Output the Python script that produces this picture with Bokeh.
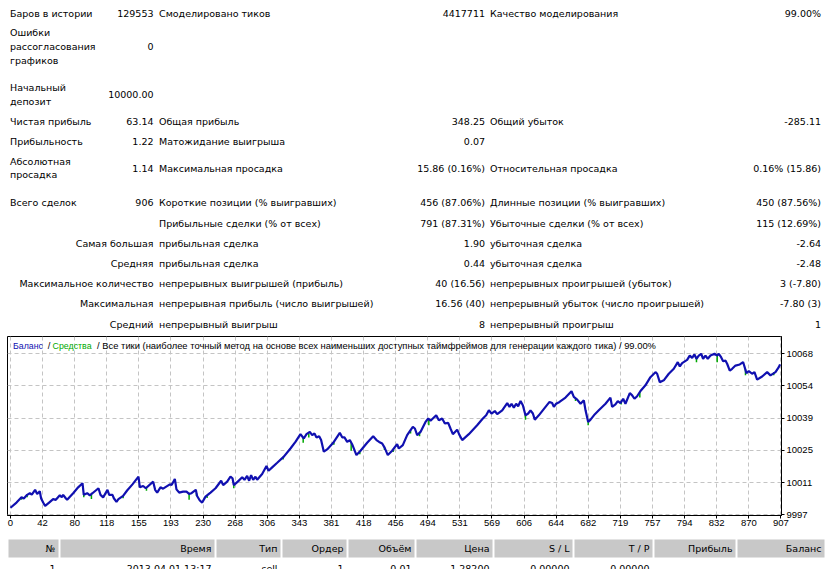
from bokeh.plotting import figure
from bokeh.models import Range1d, FixedTicker, Label, CustomJSTickFormatter
from bokeh.layouts import column
from bokeh.embed import file_html
from bokeh.resources import INLINE
from bokeh.core.properties import value

# ---------------- data ----------------
# summary table (text content)
left_labels = ["Баров в истории", "Ошибки", "рассогласования", "графиков",
               "Начальный", "депозит", "Чистая прибыль", "Прибыльность",
               "Абсолютная", "просадка", "Всего сделок"]
left_right_labels = ["Самая большая", "Средняя", "Максимальное количество",
                     "Максимальная", "Средний"]
first_values = ["129553", "0", "10000.00", "63.14", "1.22", "1.14", "906"]
mid_labels = ["Смоделировано тиков", "Общая прибыль", "Матожидание выигрыша",
              "Максимальная просадка", "Короткие позиции (% выигравших)",
              "Прибыльные сделки (% от всех)", "прибыльная сделка",
              "прибыльная сделка", "непрерывных выигрышей (прибыль)",
              "непрерывная прибыль (число выигрышей)", "непрерывный выигрыш"]
mid_values = ["4417711", "348.25", "0.07", "15.86 (0.16%)", "456 (87.06%)",
              "791 (87.31%)", "1.90", "0.44", "40 (16.56)", "16.56 (40)", "8"]
right_labels = ["Качество моделирования", "Общий убыток", "Относительная просадка",
                "Длинные позиции (% выигравших)", "Убыточные сделки (% от всех)",
                "убыточная сделка", "убыточная сделка",
                "непрерывных проигрышей (убыток)",
                "непрерывный убыток (число проигрышей)", "непрерывный проигрыш"]
right_values = ["99.00%", "-285.11", "0.16% (15.86)", "450 (87.56%)",
                "115 (12.69%)", "-2.64", "-2.48", "3 (-7.80)", "-7.80 (3)", "1"]

# balance curve (trade number, balance)
trade_no = [0, 7.1, 13.0, 15.7, 19.6, 22.8, 25.1, 29.0, 31.4, 34.5, 36.1, 38.5, 40.8,
            45.5, 50.2, 53.4, 58.1, 60.4, 62.0, 65.1, 66.7, 73.8, 79.7, 84.8, 86.3,
            90.3, 93.4, 96.5, 103.6, 106.0, 109.1, 114.2, 116.2, 120.1, 121.7, 124.8,
            127.1, 132.6, 137.3, 143.6, 150.7, 152.3, 156.2, 159.3, 168.0, 170.3,
            172.7, 176.6, 179.7, 187.6, 189.9, 193.5, 195.4, 198.6, 203.3, 207.2,
            210.3, 213.1, 218.2, 219.7, 222.9, 225.7, 229.6, 235.5, 241.4, 248.0,
            250.4, 255.1, 259.0, 261.4, 262.9, 267.6, 272.8, 275.5, 278.6, 281.0,
            283.3, 285.7, 288.4, 290.4, 296.3, 301.4, 303.8, 308.1, 314.0, 321.8,
            329.6, 335.5, 341.4, 345.3, 348.5, 352.4, 355.2, 357.9, 360.3, 363.4,
            365.7, 368.9, 372.8, 379.9, 387.7, 390.5, 393.2, 396.4, 399.5, 402.2,
            407.3, 412.1, 419.9, 427.0, 430.9, 434.0, 437.6, 440.3, 444.2, 449.3,
            455.2, 457.2, 461.9, 467.0, 471.0, 473.7, 476.1, 478.8, 482.7, 488.6,
            491.8, 494.5, 501.2, 504.3, 508.2, 511.4, 515.3, 518.0, 520.8, 525.9,
            528.6, 531.8, 539.6, 549.4, 556.1, 560.0, 563.2, 566.3, 570.2, 573.0,
            578.9, 584.8, 587.5, 589.9, 592.6, 595.3, 597.7, 600.5, 603.2, 606.3,
            609.5, 612.2, 615.0, 617.3, 622.0, 629.9, 634.6, 637.7, 639.7, 642.4,
            646.4, 653.4, 660.5, 663.2, 667.2, 671.1, 675.0, 677.0, 680.1, 682.9,
            688.0, 692.6, 700.5, 706.3, 708.3, 712.2, 715.0, 718.1, 721.3, 724.0,
            729.1, 731.9, 734.6, 737.7, 741.7, 747.5, 753.4, 759.3, 761.3, 764.4,
            769.1, 775.0, 780.9, 785.6, 788.0, 790.7, 796.6, 799.7, 802.5, 805.2,
            807.6, 810.3, 813.1, 815.4, 818.2, 820.9, 824.1, 828.8, 831.9, 833.9,
            836.6, 839.0, 841.7, 843.7, 846.8, 849.6, 853.5, 858.6, 862.5, 864.1,
            866.4, 869.2, 873.1, 875.9, 879.0, 884.9, 890.8, 894.7, 900.6, 904.5, 906.0]
balance = [10000.0, 10002.3, 10004.6, 10004.1, 10005.7, 10006.4, 10005.8, 10007.9,
           10006.1, 10007.3, 10004.1, 10002.3, 10000.8, 10002.3, 10003.8, 10003.5,
           10005.5, 10004.6, 10005.7, 10004.2, 10003.5, 10006.4, 10009.0, 10010.8,
           10005.7, 10006.4, 10005.5, 10006.4, 10008.6, 10005.7, 10004.6, 10007.9,
           10005.7, 10005.7, 10004.2, 10002.6, 10003.8, 10005.2, 10007.6, 10010.3,
           10013.7, 10009.0, 10009.6, 10008.6, 10011.5, 10007.9, 10006.7, 10009.0,
           10008.4, 10010.3, 10010.1, 10012.7, 10008.1, 10006.7, 10007.1, 10007.1,
           10006.1, 10006.4, 10007.9, 10005.2, 10003.2, 10002.3, 10004.9, 10006.7,
           10008.6, 10011.9, 10010.0, 10011.5, 10013.7, 10013.0, 10010.0, 10011.5,
           10013.4, 10012.3, 10014.0, 10011.9, 10014.4, 10012.3, 10013.7, 10012.3,
           10014.9, 10018.4, 10016.3, 10017.8, 10019.8, 10022.5, 10026.1, 10029.0,
           10032.4, 10030.5, 10032.4, 10033.4, 10032.0, 10032.7, 10030.9, 10031.5,
           10029.8, 10024.7, 10025.7, 10028.6, 10033.0, 10031.0, 10031.0, 10029.0,
           10029.8, 10028.0, 10023.2, 10025.1, 10028.6, 10031.5, 10029.8, 10029.0,
           10028.3, 10026.6, 10023.2, 10025.1, 10028.0, 10026.1, 10027.6, 10032.0,
           10034.2, 10035.6, 10034.9, 10032.0, 10033.4, 10037.8, 10039.3, 10038.3,
           10040.7, 10038.5, 10039.3, 10037.1, 10037.4, 10034.9, 10032.4, 10034.4,
           10032.0, 10029.8, 10032.4, 10036.3, 10039.3, 10040.7, 10042.9, 10041.5,
           10042.6, 10041.2, 10042.9, 10046.1, 10044.4, 10045.8, 10044.1, 10045.8,
           10044.7, 10047.0, 10045.1, 10040.7, 10041.5, 10042.9, 10041.5, 10038.8,
           10040.7, 10044.4, 10046.6, 10046.1, 10044.4, 10045.8, 10046.6, 10048.5,
           10051.3, 10048.8, 10047.6, 10045.8, 10047.3, 10042.9, 10037.8, 10038.8,
           10041.2, 10042.9, 10045.8, 10048.5, 10044.4, 10045.5, 10047.0, 10046.1,
           10048.0, 10045.8, 10050.5, 10049.5, 10048.0, 10049.1, 10051.4, 10053.9,
           10057.5, 10059.7, 10059.0, 10055.3, 10056.1, 10059.0, 10061.2, 10064.1,
           10062.2, 10063.7, 10065.1, 10067.0, 10066.0, 10067.5, 10065.6, 10067.0,
           10067.8, 10065.6, 10067.0, 10065.6, 10067.0, 10067.8, 10067.0, 10067.8,
           10066.3, 10064.5, 10064.8, 10063.4, 10060.4, 10061.2, 10062.6, 10063.1,
           10064.1, 10062.2, 10059.3, 10060.2, 10059.0, 10059.7, 10056.4, 10057.8,
           10059.7, 10058.3, 10059.7, 10061.9, 10063.14]

# equity dips (trade number, equity high, equity low)
eq_trade = [13, 19.6, 86.3, 95.3, 132.6, 160.1, 210.3, 219.0, 231.5, 262.9, 321.0,
            344.6, 351.2, 380.7, 401.1, 411.3, 440.3, 450.5, 471.0, 481.6, 492.5,
            606.3, 665.2, 680.1, 718.9, 740.9, 807.6, 832.0, 865.3, 898.6]
eq_high = [10004.6, 10005.7, 10006.0, 10006.0, 10005.2, 10008.6, 10006.1, 10006.5,
           10005.2, 10010.5, 10022.5, 10030.8, 10032.8, 10028.8, 10028.4, 10024.8,
           10026.8, 10025.4, 10034.2, 10033.0, 10038.8, 10041.0, 10048.2, 10038.0,
           10046.4, 10051.0, 10066.0, 10067.6, 10061.0, 10059.7]
eq_low = [10003.5, 10004.6, 10004.6, 10003.9, 10004.2, 10007.5, 10003.5, 10005.2,
          10004.3, 10008.6, 10021.3, 10028.6, 10030.9, 10027.8, 10025.1, 10023.6,
          10025.4, 10024.5, 10032.7, 10031.5, 10036.3, 10038.8, 10047.0, 10036.3,
          10045.5, 10048.5, 10064.1, 10064.1, 10058.3, 10058.3]

x_tick_labels = ["0", "42", "80", "118", "155", "193", "230", "268", "306", "343",
                 "381", "418", "456", "494", "531", "569", "606", "644", "682",
                 "719", "757", "794", "832", "870", "907"]
y_tick_values = [9996.9, 10011.1, 10025.3, 10039.5, 10053.7, 10067.9]
y_tick_labels = ["9997", "10011", "10025", "10039", "10054", "10068"]

legend_parts = ["Баланс", "/", "Средства",
                "/ Все тики (наиболее точный метод на основе всех наименьших доступных таймфреймов для генерации каждого тика) / 99.00%"]

deals_header = ["№", "Время", "Тип", "Ордер", "Объём", "Цена", "S / L", "T / P",
                "Прибыль", "Баланс"]
deals_row1 = ["1", "2013.04.01 13:17", "sell", "1", "0.01", "1.28200", "0.00000",
              "0.00000", "", ""]

# ---------------- styling / layout ----------------
FONT = value("DejaVu Sans")
FS = "9.5px"
BLUE = "#1010B0"
GREEN = "#00A800"

# ---------- top summary table ----------
top = figure(width=831, height=333, x_range=Range1d(0, 831), y_range=Range1d(333, 0),
             output_backend="svg", toolbar_location=None, min_border=0,
             x_axis_location=None, y_axis_location=None, outline_line_color=None)
top.grid.visible = False


def txt(fig, xs, ys, texts, align):
    fig.text(x=xs, y=ys, text=texts, text_align=align, text_baseline="middle",
             text_font=FONT, text_font_size=FS, text_color="black")


left_y = [13, 32, 46, 60, 87, 100.5, 120.5, 141, 160.5, 174, 202]
txt(top, [9.5] * len(left_labels), left_y, left_labels, "left")
lr_y = [242.5, 262.5, 283, 303, 323.5]
txt(top, [153] * len(left_right_labels), lr_y, left_right_labels, "right")
fv_y = [13, 46, 94, 120.5, 141, 167.5, 202]
txt(top, [153] * len(first_values), fv_y, first_values, "right")
mid_y = [13, 120.5, 141, 167.5, 202, 222.5, 242.5, 262.5, 283, 303, 323.5]
txt(top, [158.5] * len(mid_labels), mid_y, mid_labels, "left")
txt(top, [484.5] * len(mid_values), mid_y, mid_values, "right")
right_y = [13, 120.5, 167.5, 202, 222.5, 242.5, 262.5, 283, 303, 323.5]
txt(top, [489.5] * len(right_labels), right_y, right_labels, "left")
txt(top, [820.5] * len(right_values), right_y, right_values, "right")

# ---------- chart ----------
x_ticks = [907 * k / (len(x_tick_labels) - 1) for k in range(len(x_tick_labels))]

chart = figure(width=831, height=200, x_range=Range1d(-3.5, 907.7),
               y_range=Range1d(9996.6, 10075.4), y_axis_location="right",
               output_backend="svg", toolbar_location=None,
               min_border_left=7, min_border_right=50, min_border_top=3,
               min_border_bottom=18, outline_line_color="black",
               outline_line_width=1, background_fill_color="white")

chart.xaxis.ticker = FixedTicker(ticks=x_ticks)
chart.xgrid.ticker = FixedTicker(ticks=x_ticks)
chart.yaxis.ticker = FixedTicker(ticks=y_tick_values)
chart.ygrid.ticker = FixedTicker(ticks=y_tick_values)
chart.xaxis.formatter = CustomJSTickFormatter(args=dict(labels=x_tick_labels),
                                              code="return labels[index];")
chart.yaxis.formatter = CustomJSTickFormatter(args=dict(labels=y_tick_labels),
                                              code="return labels[index];")
for ax in (chart.xaxis, chart.yaxis):
    ax.axis_line_color = "black"
    ax.major_tick_line_color = "black"
    ax.major_tick_in = 0
    ax.major_tick_out = 3
    ax.minor_tick_line_color = None
    ax.major_label_text_font = "Liberation Sans"
    ax.major_label_text_font_size = "9.5px"
    ax.major_label_text_color = "black"
chart.xaxis.major_label_standoff = 1
chart.yaxis.major_label_standoff = 2
chart.grid.grid_line_color = "#C4C4C4"
chart.grid.grid_line_dash = "4 3"
chart.grid.grid_line_width = 1

chart.segment(x0=eq_trade, y0=eq_high, x1=eq_trade, y1=eq_low,
              line_color=GREEN, line_width=1.5)
chart.line(trade_no, balance, line_color=BLUE, line_width=2.2)

legend_x = [3.0, 44.0, 49.6, 102.0]
legend_sizes = ["8.8px", "9.4px", "8.8px", "9.4px"]
legend_colors = [BLUE, "black", GREEN, "black"]
for txt_s, lx, col, fs in zip(legend_parts, legend_x, legend_colors, legend_sizes):
    chart.add_layout(Label(x=lx, y=10071.4, text=txt_s, text_color=col,
                           text_font="Liberation Sans", text_font_size=fs,
                           text_baseline="middle", text_align="left"))

# ---------- deals table header ----------
bot = figure(width=831, height=36, x_range=Range1d(0, 831), y_range=Range1d(569, 533),
             output_backend="svg", toolbar_location=None, min_border=0,
             x_axis_location=None, y_axis_location=None, outline_line_color=None)
bot.grid.visible = False
cell_left = [8, 60, 216, 282, 348, 416, 494, 574, 654, 737]
cell_right = [58, 214, 280, 346, 414, 492, 572, 652, 735, 824]
bot.quad(left=cell_left, right=cell_right, top=[539] * 10, bottom=[557] * 10,
         fill_color="#C8C8C8", line_color=None)
txt_x = [r - 3 for r in cell_right]
txt(bot, txt_x, [548] * 10, deals_header, "right")
txt(bot, txt_x, [567.5] * 10, deals_row1, "right")

for f in (top, chart, bot):
    f.frame_align = False

layout = column(top, chart, bot, spacing=0)
open("out.html", "w").write(file_html(layout, INLINE))
